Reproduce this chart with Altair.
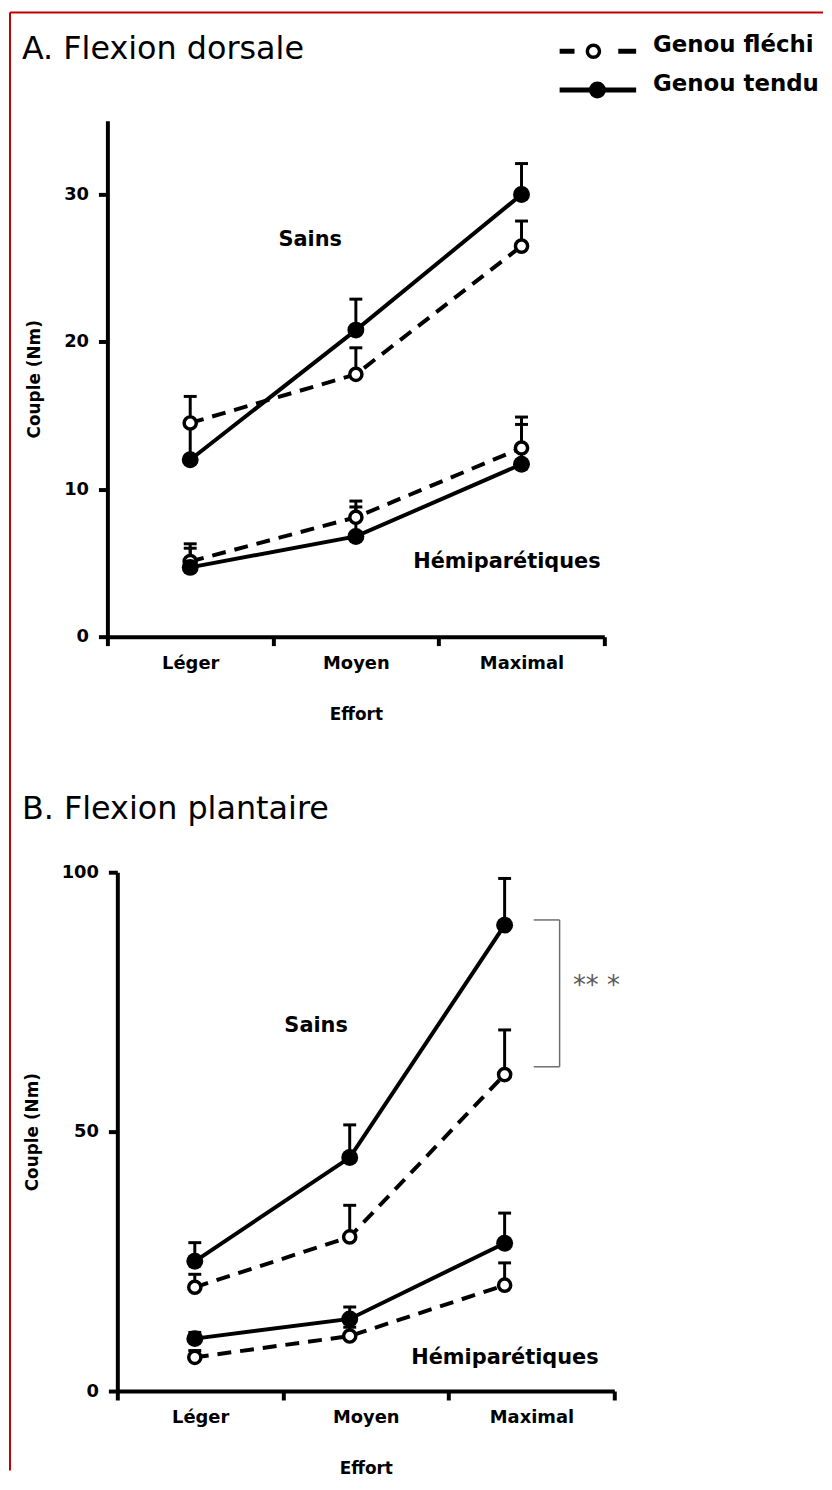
import altair as alt
import pandas as pd

efforts = ["Léger", "Moyen", "Maximal"]

# ---- Panel A : flexion dorsale (couple, Nm) ----
a_sains_flechi = [14.5, 17.8, 26.5]
a_sains_flechi_top = [16.3, 19.6, 28.2]
a_sains_tendu = [12.0, 20.8, 30.0]
a_sains_tendu_top = [14.3, 22.9, 32.1]
a_hemi_flechi = [5.1, 8.1, 12.8]
a_hemi_flechi_top = [6.0, 9.2, 14.9]
a_hemi_tendu = [4.7, 6.8, 11.7]
a_hemi_tendu_top = [6.3, 8.8, 14.4]

# ---- Panel B : flexion plantaire (couple, Nm) ----
b_sains_flechi = [20.0, 29.7, 61.0]
b_sains_flechi_top = [22.5, 35.8, 69.6]
b_sains_tendu = [25.0, 45.0, 89.8]
b_sains_tendu_top = [28.6, 51.3, 98.8]
b_hemi_flechi = [6.5, 10.6, 20.4]
b_hemi_flechi_top = [7.8, 12.3, 24.7]
b_hemi_tendu = [10.1, 13.9, 28.5]
b_hemi_tendu_top = [11.3, 16.2, 34.3]

a_ticks = [0, 10, 20, 30]
b_ticks = [0, 50, 100]
b_bracket = [62.5, 90.8]   # significance bracket span (Nm)

FONT = "DejaVu Sans"


def build_df(series):
    rows = []
    for groupe, genou, vals, tops in series:
        for e, v, t in zip(efforts, vals, tops):
            rows.append({"effort": e, "groupe": groupe, "genou": genou, "val": v, "top": t})
    return pd.DataFrame(rows)


dfA = build_df([
    ("Sains", "fléchi", a_sains_flechi, a_sains_flechi_top),
    ("Sains", "tendu", a_sains_tendu, a_sains_tendu_top),
    ("Hémiparétiques", "fléchi", a_hemi_flechi, a_hemi_flechi_top),
    ("Hémiparétiques", "tendu", a_hemi_tendu, a_hemi_tendu_top),
])
dfB = build_df([
    ("Sains", "fléchi", b_sains_flechi, b_sains_flechi_top),
    ("Sains", "tendu", b_sains_tendu, b_sains_tendu_top),
    ("Hémiparétiques", "fléchi", b_hemi_flechi, b_hemi_flechi_top),
    ("Hémiparétiques", "tendu", b_hemi_tendu, b_hemi_tendu_top),
])


def x_axis():
    return alt.Axis(title="Effort", tickBand="extent", labelAngle=0, grid=False,
                    domainWidth=4, domainColor="black", tickWidth=4, tickColor="black",
                    tickSize=9, labelFont=FONT, labelFontWeight="bold", labelFontSize=18,
                    labelColor="black", labelPadding=9, titleFont=FONT,
                    titleFontWeight="bold", titleFontSize=17, titleColor="black",
                    titlePadding=34)


def y_axis(values, offset):
    return alt.Axis(values=values, title="Couple (Nm)", offset=offset, grid=False,
                    domainWidth=4, domainColor="black", tickWidth=4, tickColor="black",
                    tickSize=9, labelFont=FONT, labelFontWeight="bold", labelFontSize=18,
                    labelColor="black", labelPadding=10, titleFont=FONT,
                    titleFontWeight="bold", titleFontSize=17, titleColor="black",
                    titlePadding=20)


def data_layers(df, xscale, xaxis, yscale, yaxis):
    X = alt.X("effort:N", sort=efforts, scale=xscale, axis=xaxis)
    Y = alt.Y("val:Q", scale=yscale, axis=yaxis)
    base = alt.Chart(df)
    err = base.mark_rule(color="black", strokeWidth=3).encode(x=X, y=Y, y2="top:Q")
    cap = base.mark_tick(color="black", size=13, thickness=3, opacity=1).encode(
        x=X, y=alt.Y("top:Q", scale=yscale, axis=yaxis))
    fl = base.transform_filter(alt.datum.genou == "fléchi")
    te = base.transform_filter(alt.datum.genou == "tendu")
    line_f = fl.mark_line(color="black", strokeWidth=4, strokeDash=[14, 9]).encode(
        x=X, y=Y, detail="groupe:N")
    line_t = te.mark_line(color="black", strokeWidth=4).encode(x=X, y=Y, detail="groupe:N")
    pts_f = fl.mark_point(shape="circle", filled=True, fill="white", fillOpacity=1,
                          stroke="black", strokeWidth=3.5, size=150, opacity=1).encode(x=X, y=Y)
    pts_t = te.mark_circle(color="black", size=290, opacity=1).encode(x=X, y=Y)
    return [err, cap, line_f, line_t, pts_f, pts_t]


def one(**kw):
    return alt.Chart(pd.DataFrame([kw]))


def label_px(txt, x, y, size, weight="normal", align="left"):
    return one(t=txt).mark_text(font=FONT, fontSize=size, fontWeight=weight, align=align,
                                baseline="middle", color="black").encode(
        text="t:N", x=alt.value(x), y=alt.value(y))


def label_data(txt, x, v, size, yscale, yaxis, weight="bold", color="black"):
    return one(t=txt, v=v).mark_text(font=FONT, fontSize=size, fontWeight=weight,
                                     align="center", baseline="middle", color=color).encode(
        text="t:N", x=alt.value(x), y=alt.Y("v:Q", scale=yscale, axis=yaxis))


# ---------------- Panel A ----------------
ysA = alt.Scale(domain=[0, 35], nice=False, zero=True)
yaA = y_axis(a_ticks, 0)
xsA = alt.Scale(domain=efforts, range=[0, 500], paddingInner=0, paddingOuter=0)
layersA = data_layers(dfA, xsA, x_axis(), ysA, yaA)

red = "#c00000"
border_top = one(k=1).mark_rule(color=red, strokeWidth=2).encode(
    x=alt.value(-98), x2=alt.value(720), y=alt.value(-109))
border_left = one(k=1).mark_rule(color=red, strokeWidth=2).encode(
    x=alt.value(-98), y=alt.value(-109), y2=alt.value(1358))

leg_d1 = one(k=1).mark_rule(color="black", strokeWidth=5).encode(
    x=alt.value(455), x2=alt.value(470), y=alt.value(-70))
leg_d2 = one(k=1).mark_rule(color="black", strokeWidth=5).encode(
    x=alt.value(514), x2=alt.value(532), y=alt.value(-70))
leg_o = one(k=1).mark_point(shape="circle", filled=True, fill="white", fillOpacity=1,
                            stroke="black", strokeWidth=3.5, size=150, opacity=1).encode(
    x=alt.value(489), y=alt.value(-70))
leg_s = one(k=1).mark_rule(color="black", strokeWidth=5).encode(
    x=alt.value(455), x2=alt.value(532), y=alt.value(-31))
leg_f = one(k=1).mark_circle(color="black", size=290, opacity=1).encode(
    x=alt.value(493), y=alt.value(-31))
leg_t1 = label_px("Genou fléchi", 549, -76, 23, weight="bold")
leg_t2 = label_px("Genou tendu", 549, -37, 23, weight="bold")

titleA = label_px("A. Flexion dorsale", -86, -72, 32)
sainsA = label_data("Sains", 204, 26.9, 21, ysA, yaA)
hemiA = label_data("Hémiparétiques", 402, 5.06, 21, ysA, yaA)

panelA = alt.layer(
    border_top, border_left, *layersA, leg_d1, leg_d2, leg_o, leg_s, leg_f, leg_t1, leg_t2,
    titleA, sainsA, hemiA,
).properties(width=500, height=519)

# ---------------- Panel B ----------------
ysB = alt.Scale(domain=[0, 100], nice=False, zero=True)
yaB = y_axis(b_ticks, -10)
xsB_axis = alt.Scale(domain=efforts, range=[10, 510], paddingInner=0, paddingOuter=0)
# the plotted points sit slightly left of the category centres in the original figure
xsB_data = alt.Scale(type="point", domain=efforts, range=[10, 510], padding=0.604, align=0.414)
layersB = data_layers(dfB, xsB_data, None, ysB, yaB)

axis_layer = alt.Chart(pd.DataFrame({"effort": efforts})).mark_point(opacity=0).encode(
    x=alt.X("effort:N", sort=efforts, scale=xsB_axis, axis=x_axis()), y=alt.value(0))

br = pd.DataFrame({"lo": [b_bracket[0]], "hi": [b_bracket[1]]})
gray = "#6e6e6e"
br_top = alt.Chart(br).mark_rule(color=gray, strokeWidth=1.5).encode(
    x=alt.value(429), x2=alt.value(455), y=alt.Y("hi:Q", scale=ysB, axis=yaB))
br_bot = alt.Chart(br).mark_rule(color=gray, strokeWidth=1.5).encode(
    x=alt.value(429), x2=alt.value(455), y=alt.Y("lo:Q", scale=ysB, axis=yaB))
br_v = alt.Chart(br).mark_rule(color=gray, strokeWidth=1.5).encode(
    x=alt.value(455), y=alt.Y("lo:Q", scale=ysB, axis=yaB), y2="hi:Q")
stars = label_data("** *", 492, (b_bracket[0] + b_bracket[1]) / 2 + 1.5, 26, ysB, yaB,
                   weight="normal", color="#5a5a5a")

titleB = label_px("B. Flexion plantaire", -86, -64, 32)
sainsB = label_data("Sains", 210, 70.3, 21, ysB, yaB)
hemiB = label_data("Hémiparétiques", 400, 6.3, 21, ysB, yaB)

inner_B = alt.layer(*layersB, br_top, br_bot, br_v, stars, titleB, sainsB, hemiB)
panelB = alt.layer(axis_layer, inner_B).resolve_scale(x="independent").properties(
    width=510, height=522)

chart = alt.vconcat(panelA, panelB, spacing=237, bounds="flush").properties(
    padding={"left": 1, "top": -1, "right": 0, "bottom": 0},
    background="white",
).configure_view(stroke=None, strokeWidth=0)

chart.save("out.html", embed_options={"renderer": "svg", "actions": False})
